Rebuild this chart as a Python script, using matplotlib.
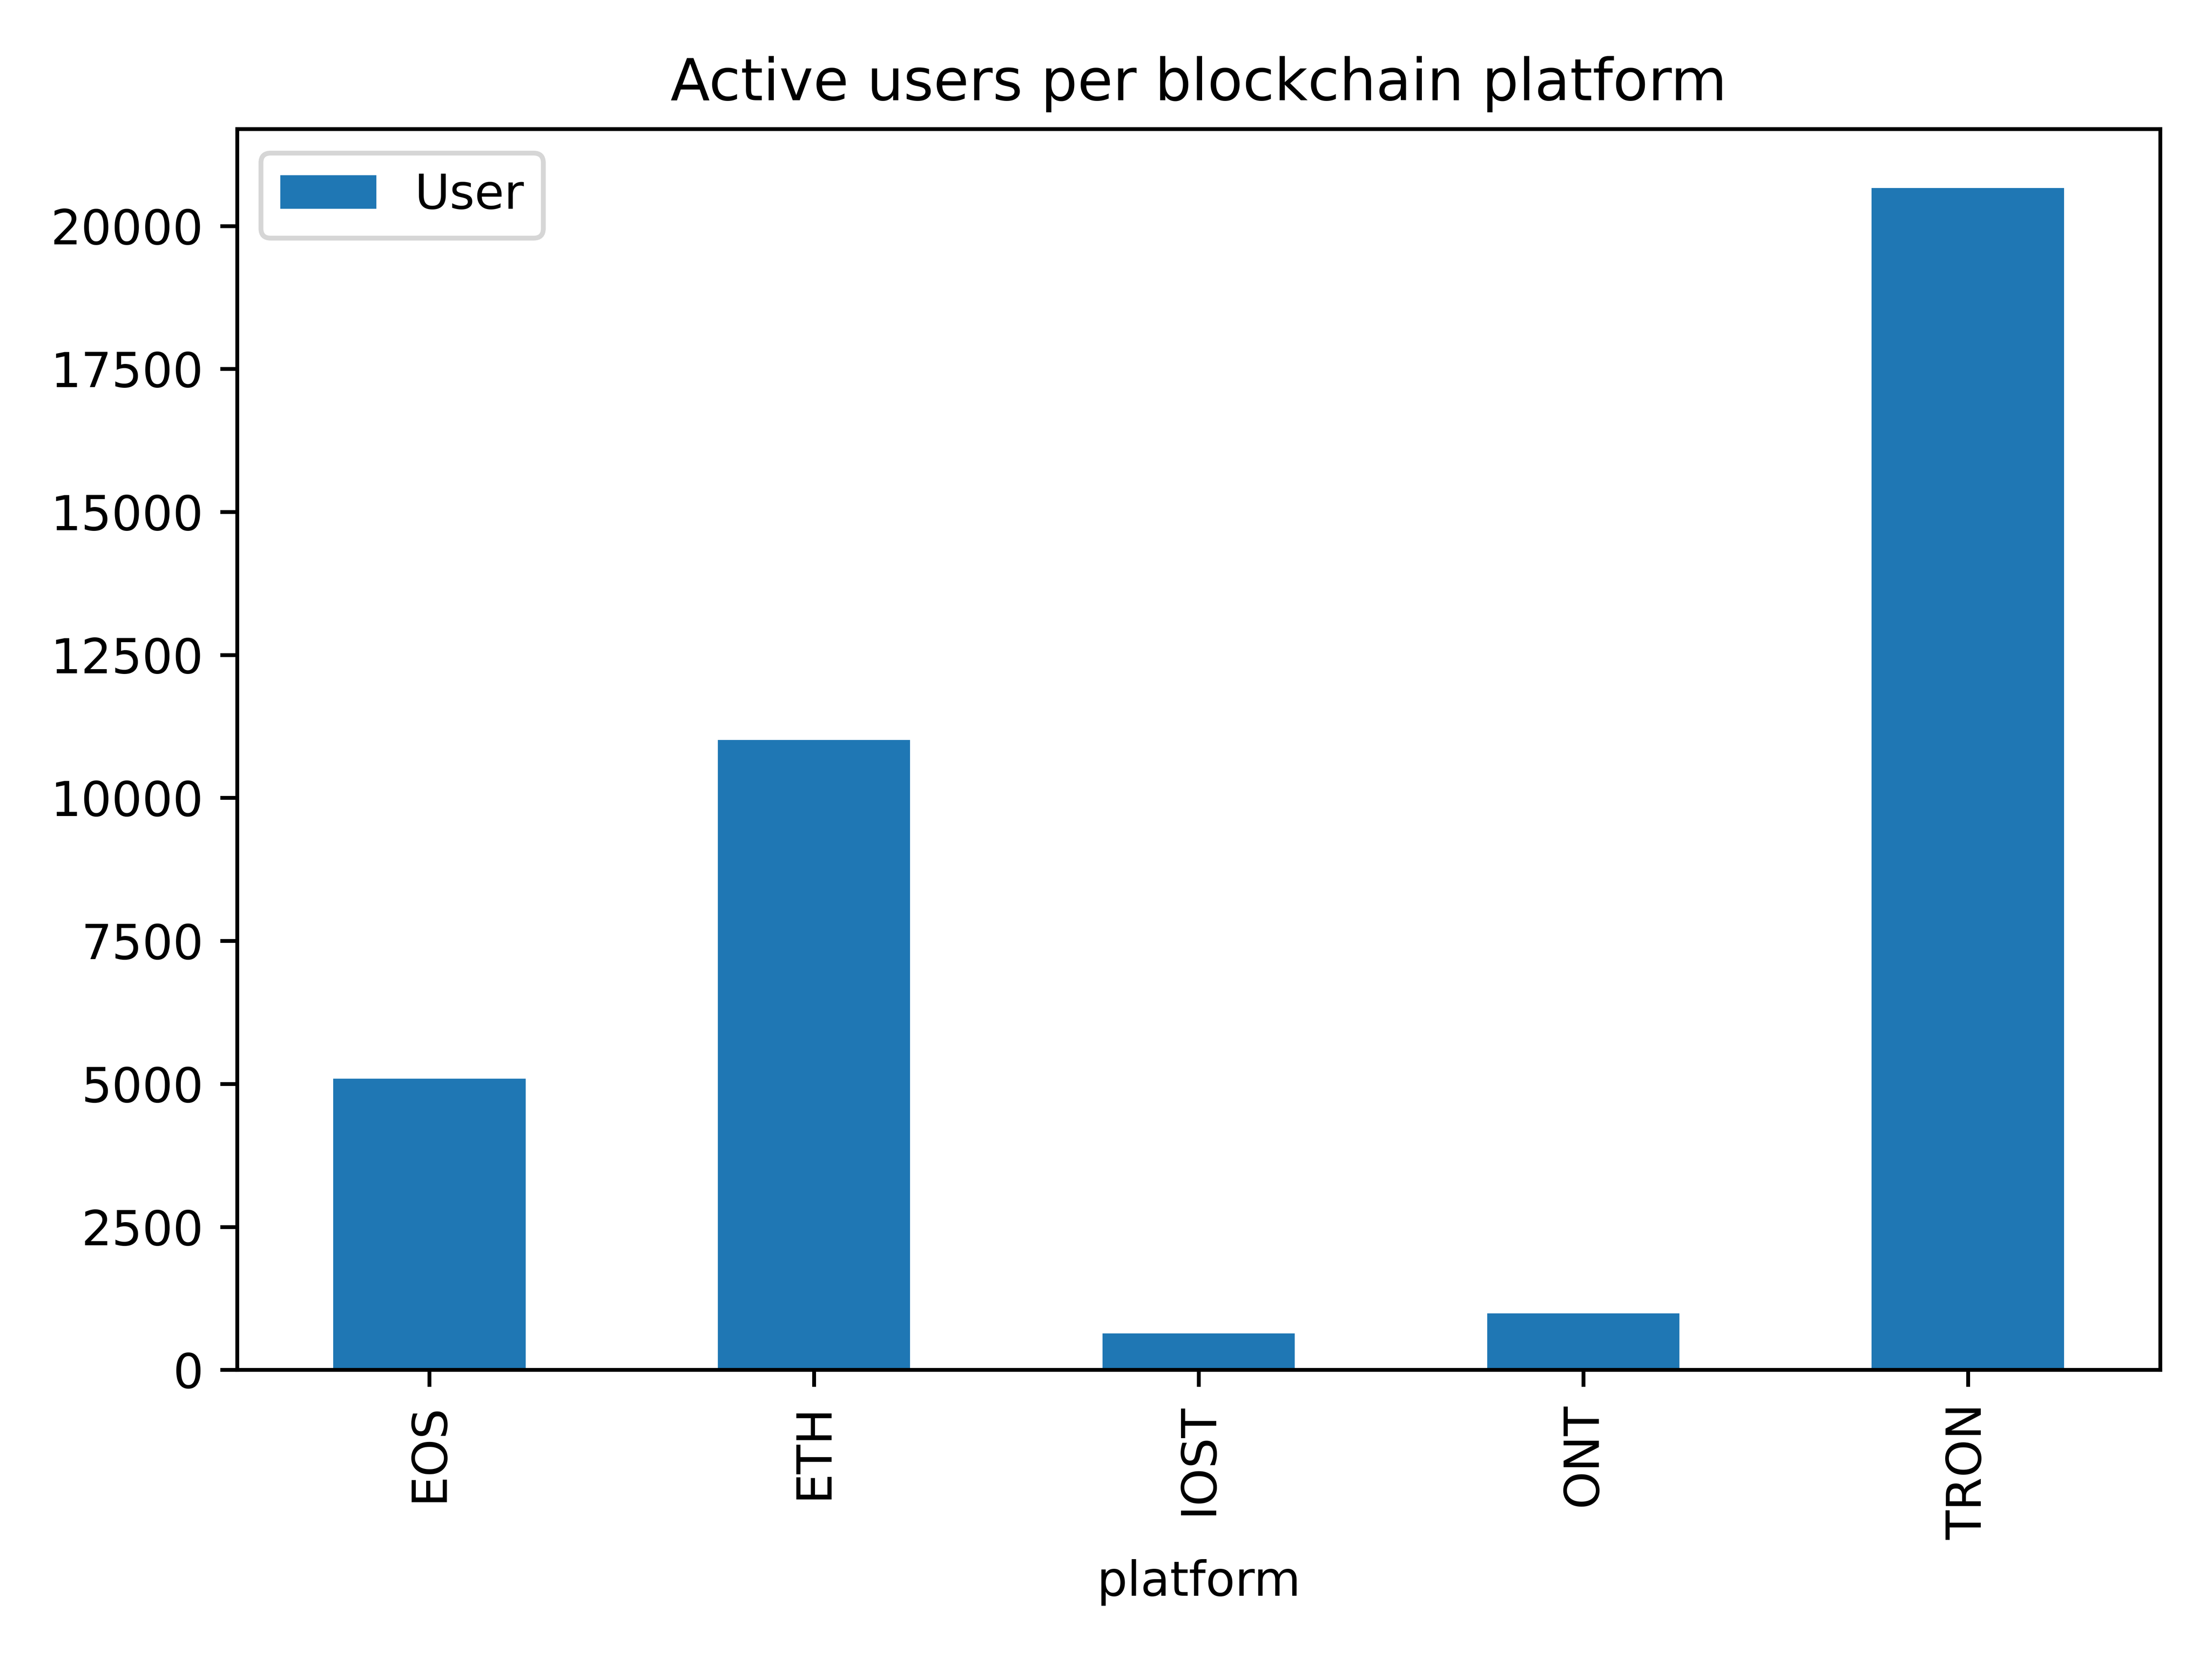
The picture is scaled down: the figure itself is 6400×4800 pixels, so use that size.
import matplotlib
matplotlib.use("Agg")
import matplotlib.pyplot as plt
import pandas as pd

platforms = ["EOS", "ETH", "IOST", "ONT", "TRON"]
users = [5090, 11010, 640, 985, 20660]

df = pd.DataFrame({"platform": platforms, "User": users}).set_index("platform")

fig, ax = plt.subplots(figsize=(6.4, 4.8))
df.plot.bar(ax=ax, color="#1f77b4")
ax.set_title("Active users per blockchain platform")
ax.set_xlabel("platform")
fig.tight_layout()
fig.savefig("out.png", dpi=1000)
